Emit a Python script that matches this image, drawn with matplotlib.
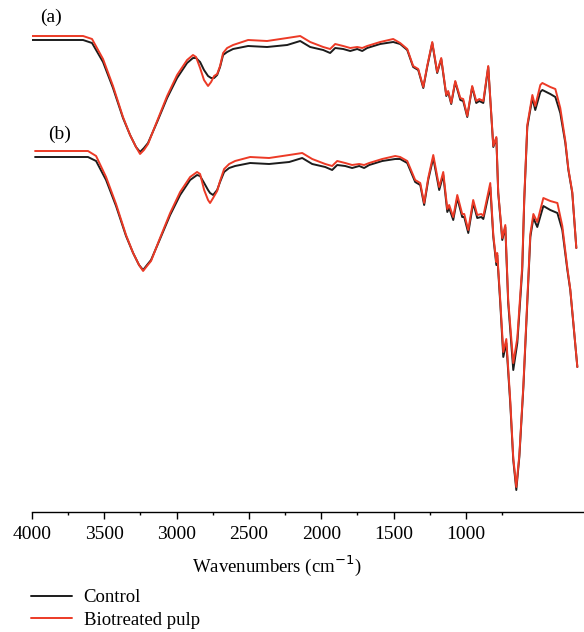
import numpy as np
import matplotlib
matplotlib.use("Agg")
import matplotlib.pyplot as plt

plt.rcParams['font.family'] = ['Liberation Serif', 'DejaVu Serif']

# spectrum (a): wavenumbers and transmittance (a.u.)
wn_a = [4000, 3647, 3585, 3509, 3440, 3371, 3322, 3281, 3253, 3226, 3198, 3135,
        3066, 2997, 2928, 2887, 2866, 2838, 2811, 2783, 2762, 2741, 2720, 2700,
        2679, 2651, 2610, 2506, 2375, 2236, 2146, 2077, 1987, 1939, 1904, 1849,
        1800, 1752, 1717, 1683, 1593, 1503, 1455, 1406, 1365, 1330, 1295, 1268,
        1233, 1199, 1171, 1136, 1123, 1102, 1074, 1039, 1019, 991, 957, 929,
        908, 880, 846, 811, 790, 777, 749, 728, 708, 673, 645, 611, 597, 576,
        541, 521, 486, 472, 417, 382, 348, 313, 292, 265, 237]
control_a = [94.4, 94.4, 93.8, 90.0, 84.8, 78.8, 75.4, 73.0, 72.0, 72.8, 73.8, 78.0,
             82.8, 86.8, 89.8, 90.8, 90.8, 90.0, 88.4, 87.2, 86.8, 86.8, 87.4, 89.0,
             91.4, 92.0, 92.6, 93.2, 93.0, 93.4, 94.2, 93.0, 92.4, 91.8, 92.8, 92.6,
             92.2, 92.6, 92.2, 92.8, 93.6, 94.0, 93.6, 92.4, 89.0, 88.4, 84.8, 89.0,
             93.8, 87.8, 90.6, 83.2, 84.0, 81.6, 86.0, 82.4, 82.2, 79.0, 85.0, 81.8,
             82.2, 81.8, 89.0, 73.0, 74.8, 63.8, 54.4, 57.0, 41.8, 28.4, 33.8, 48.4,
             62.4, 77.0, 82.8, 80.4, 84.0, 84.4, 83.6, 83.0, 79.8, 73.8, 68.4, 63.8,
             52.8]
bio_a = [95.2, 95.2, 94.6, 90.6, 85.2, 79.0, 75.4, 73.0, 71.6, 72.4, 73.6, 78.2,
         83.2, 87.4, 90.4, 91.4, 91.0, 88.8, 86.4, 85.2, 86.0, 87.2, 87.6, 89.2,
         91.8, 92.8, 93.4, 94.4, 94.2, 94.8, 95.2, 94.0, 93.0, 92.6, 93.6, 93.2,
         92.8, 93.0, 92.8, 93.2, 94.0, 94.6, 93.8, 92.6, 89.2, 88.6, 85.0, 89.2,
         94.0, 88.0, 90.8, 83.4, 84.2, 81.8, 86.2, 82.8, 82.6, 79.2, 85.2, 82.2,
         82.6, 82.2, 89.2, 73.2, 75.0, 64.0, 54.8, 57.4, 42.4, 29.8, 34.8, 49.2,
         62.8, 77.4, 83.4, 81.2, 85.4, 85.8, 85.0, 84.6, 80.8, 74.2, 68.6, 64.0,
         52.8]

# spectrum (b)
wn_b = [3979, 3613, 3557, 3488, 3419, 3350, 3301, 3260, 3232, 3205, 3177, 3115,
        3045, 2976, 2907, 2859, 2838, 2810, 2783, 2769, 2748, 2720, 2700, 2672,
        2637, 2596, 2492, 2361, 2222, 2132, 2063, 1973, 1925, 1890, 1835, 1787,
        1738, 1704, 1669, 1579, 1489, 1455, 1406, 1351, 1316, 1289, 1261, 1226,
        1185, 1157, 1129, 1116, 1088, 1060, 1026, 1012, 984, 950, 922, 894,
        880, 832, 811, 790, 784, 763, 742, 721, 694, 673, 652, 631, 603, 576,
        555, 534, 507, 465, 417, 368, 334, 299, 279, 258, 230]
control_b = [71.0, 71.0, 70.2, 66.4, 61.2, 55.2, 51.8, 49.4, 48.4, 49.4, 50.4, 54.6,
             59.4, 63.4, 66.4, 67.4, 67.2, 65.8, 64.4, 63.8, 63.4, 64.4, 66.0, 68.0,
             68.8, 69.2, 69.8, 69.6, 70.0, 70.8, 69.6, 69.0, 68.4, 69.4, 69.2, 68.8,
             69.2, 68.8, 69.4, 70.2, 70.6, 70.6, 69.8, 66.0, 65.4, 61.4, 66.4, 70.8,
             64.4, 67.4, 60.0, 60.8, 58.4, 62.8, 59.0, 59.0, 55.8, 61.8, 58.8, 59.0,
             58.6, 65.0, 55.0, 49.4, 51.4, 41.8, 31.0, 33.8, 21.8, 10.4, 4.4, 11.0,
             25.0, 41.8, 55.0, 58.8, 57.0, 61.2, 60.4, 59.8, 56.4, 48.4, 44.4, 37.8,
             29.0]
bio_b = [72.2, 72.2, 71.2, 67.0, 61.6, 55.4, 51.8, 49.4, 48.2, 49.2, 50.2, 54.8,
         59.8, 64.0, 67.0, 68.0, 67.6, 64.4, 62.4, 61.8, 62.8, 64.2, 66.2, 68.6,
         69.6, 70.2, 71.0, 70.8, 71.4, 71.8, 70.6, 69.6, 69.2, 70.2, 69.8, 69.4,
         69.6, 69.4, 69.8, 70.6, 71.2, 71.0, 70.2, 66.4, 65.8, 61.8, 66.8, 71.4,
         65.0, 68.0, 60.6, 61.4, 59.0, 63.4, 59.6, 59.6, 56.4, 62.4, 59.4, 59.6,
         59.2, 65.8, 55.4, 50.0, 51.8, 42.4, 32.0, 34.6, 22.4, 10.8, 5.0, 11.4,
         25.4, 42.4, 55.6, 59.6, 58.0, 62.8, 62.2, 61.8, 57.2, 48.8, 44.6, 38.0,
         29.0]

fig = plt.figure(figsize=(5.84, 6.32), dpi=100)
ax = fig.add_axes([32 / 584, 120 / 632, 552 / 584, 512 / 632])

black = '#1c1c1c'
red = '#ec3a26'
style = dict(lw=1.4, solid_joinstyle='round', solid_capstyle='round')
ax.plot(wn_a, control_a, color=black, label='Control', **style)
ax.plot(wn_a, bio_a, color=red, label='Biotreated pulp', **style)
ax.plot(wn_b, control_b, color=black, **style)
ax.plot(wn_b, bio_b, color=red, **style)

ax.set_xlim(4000, 184)
ax.set_ylim(0, 102.4)
ax.set_xticks([4000, 3500, 3000, 2500, 2000, 1500, 1000])
ax.set_xticks(np.arange(3750, 500, -500), minor=True)
ax.set_yticks([])
for s in ['left', 'right', 'top']:
    ax.spines[s].set_visible(False)
ax.spines['bottom'].set_linewidth(1.0)
ax.tick_params(axis='x', which='major', direction='out', length=5, width=1,
               labelsize=14, pad=5)
ax.tick_params(axis='x', which='minor', direction='out', length=2.5, width=1)
ax.set_xlabel('Wavenumbers (cm$^{-1}$)', fontsize=13.5, va='center')
ax.xaxis.set_label_coords(0.444, -0.104)

ax.text(0.014, 0.966, '(a)', transform=ax.transAxes, fontsize=14, ha='left', va='center')
ax.text(0.029, 0.737, '(b)', transform=ax.transAxes, fontsize=14, ha='left', va='center')

fig.legend(loc='upper left', bbox_to_anchor=(31 / 584, 1 - 589 / 632), frameon=False,
           fontsize=13.5, handlelength=2.2, handletextpad=0.6, labelspacing=0.3,
           borderaxespad=0, borderpad=0)

fig.savefig('out.png', dpi=100)
